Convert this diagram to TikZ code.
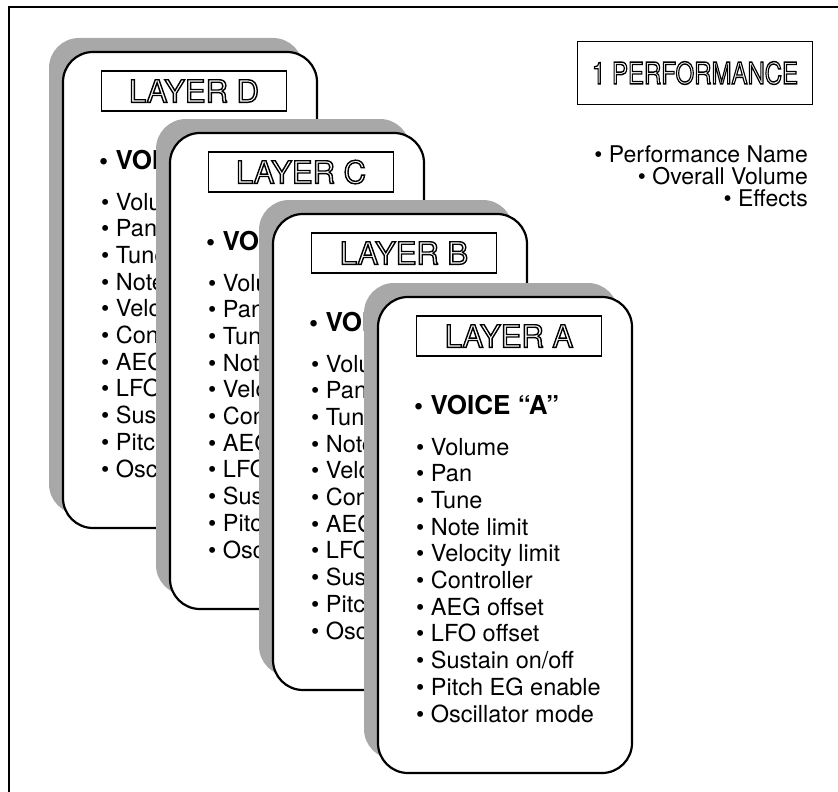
\documentclass[tikz,border=0pt]{standalone}
\usepackage{fontspec}
\setmainfont{TeX Gyre Heros}
\usepackage{xcolor}
\usetikzlibrary{positioning}
\definecolor{shadowGray}{RGB}{168,168,168}

% hollow (stroked) letters
\newcommand{\hollow}[1]{\special{pdf:literal direct 1 Tr 1.4 w}#1\special{pdf:literal direct 0 Tr}}

\tikzset{
    cardshadow/.style={fill=shadowGray, draw=none, rounded corners=30pt},
    cardbody/.style={fill=white, draw=black, line width=2.2pt, rounded corners=30pt},
    layerbox/.style={draw=black, line width=1.3pt, minimum width=185pt, minimum height=40pt,
        inner sep=0pt, font=\fontsize{31}{32}\selectfont},
    titlebox/.style={draw=black, line width=1.5pt, minimum width=235pt, minimum height=63pt,
        inner sep=0pt, font=\fontsize{30}{31}\selectfont},
    voicetext/.style={anchor=base west, inner sep=0pt, font=\fontsize{26}{28}\bfseries\selectfont},
    itemtext/.style={anchor=base west, inner sep=0pt, font=\fontsize{23.5}{26}\selectfont},
    perftext/.style={anchor=base east, inner sep=0pt, font=\fontsize{23}{25}\selectfont},
}

\begin{document}
\begin{tikzpicture}[x=1pt,y=-1pt]

    \useasboundingbox (0,0) rectangle (838,792);

    % Frame
    \draw[line width=1.6pt] (9,792) -- (9,7) -- (838,7);

    % Layer cards, back to front
    \foreach \lay/\cx/\cy in {D/63/52, C/170/133, B/273/214, A/378/297} {
        \begin{scope}[shift={(\cx,\cy)}]
            \fill[cardshadow] (-14,-14) rectangle (240,462);
            \draw[cardbody] (0,0) rectangle (254,476);
            \node[layerbox] (lbl\lay) at (131,39) {\hollow{LAYER \lay}};
            \if\lay A
                \node[voicetext] (voice\lay) at (36,117) {• VOICE “A”};
                \foreach \itm [count=\k] in {Volume, Pan, Tune, Note limit, Velocity limit,
                    Controller, AEG offset, LFO offset, Sustain on/off, Pitch EG enable, Oscillator mode}
                    \node[itemtext] (item\lay\k) at (38,{131.3+26.7*\k}) {• \itm};
            \else
                % only the left strip shows, the next card covers the rest
                \begin{scope}
                    \clip (0,60) rectangle (92,476);
                    \node[voicetext] (voice\lay) at (36,117) {• VOI};
                    \foreach \itm [count=\k] in {Volu, Pan, Tune, Note, Velo, Cont, AEG, LFO, Sust, Pitch, Osci}
                        \node[itemtext] (item\lay\k) at (38,{131.3+26.7*\k}) {• \itm};
                \end{scope}
            \fi
        \end{scope}
    }

    % Performance
    \node[titlebox] (perf) at (695,73) {\scalebox{0.8}[1]{\hollow{1 PERFORMANCE}}};
    \node[perftext] (pname) at (808,162) {• Performance Name};
    \node[perftext] (pvol) at (808,184) {• Overall Volume};
    \node[perftext] (pfx) at (808,206) {• Effects};

\end{tikzpicture}
\end{document}
